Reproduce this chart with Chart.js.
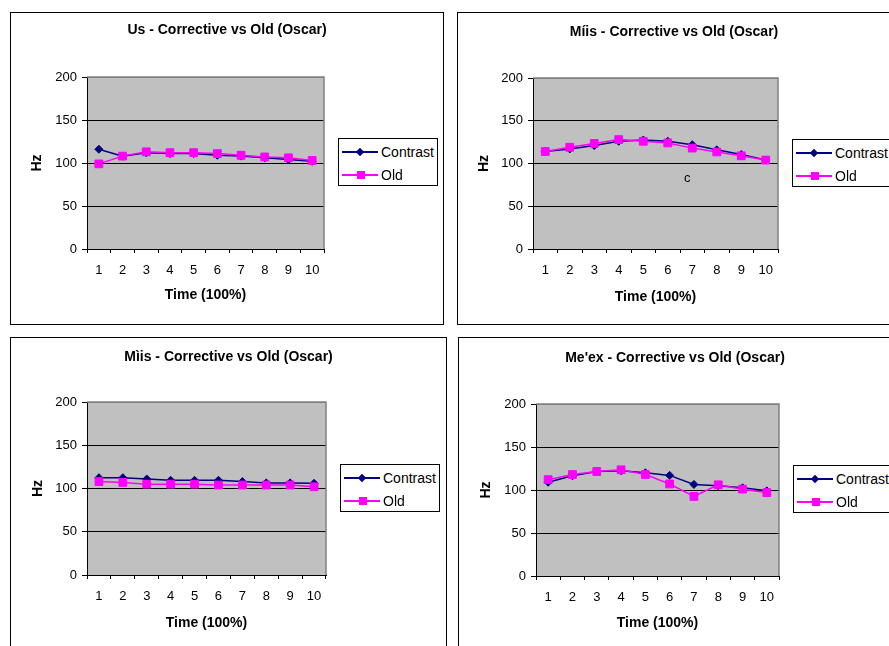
<!DOCTYPE html>
<html lang="en">
<head>
<meta charset="UTF-8">
<title>Corrective vs Old (Oscar)</title>
<script src="https://cdn.jsdelivr.net/npm/chart.js@4.4.1/dist/chart.umd.min.js"></script>
<style>
body { margin: 0; background: #fff; width: 889px; height: 646px; overflow: hidden; position: relative; }
.panel { position: absolute; border: 1px solid #000; background: #fff; }
.panel canvas { position: absolute; left: 0; top: 0; }
.legend { position: absolute; width: 100px; height: 48px; border: 1px solid #000; background: #fff; box-sizing: border-box;
  font: 14px "Liberation Sans", Arial, sans-serif; color: #000; }
.legend .row { position: absolute; left: 3px; height: 24px; line-height: 24px; white-space: nowrap; }
.legend .key { display: inline-block; position: relative; width: 36px; height: 24px; vertical-align: top; margin-right: 3px; }
.legend .key::before { content: ""; position: absolute; left: 0; right: 0; top: 11px; height: 1.5px; }
.legend .key i { position: absolute; left: 15px; top: 8px; width: 7px; height: 7px; }
.legend .navy::before, .legend .navy i { background: #000080; }
.legend .navy i { transform: rotate(45deg); width: 6px; height: 6px; top: 9px; }
.legend .pink::before, .legend .pink i { background: #ff00ff; }
.legend .pink i { width: 8px; height: 8px; top: 8px; }
</style>
</head>
<body>

<div class="panel" style="left:10px; top:12px; width:432px; height:311px;">
  <canvas id="c1" width="432" height="311"></canvas>
  <div class="legend" style="left:327px; top:125px;">
    <div class="row" style="top:1px"><span class="key navy"><i></i></span>Contrast</div>
    <div class="row" style="top:24px"><span class="key pink"><i></i></span>Old</div>
  </div>
</div>
<div class="panel" style="left:457px; top:12px; width:432px; height:311px;">
  <canvas id="c2" width="432" height="311"></canvas>
  <div class="legend" style="left:334px; top:126px;">
    <div class="row" style="top:1px"><span class="key navy"><i></i></span>Contrast</div>
    <div class="row" style="top:24px"><span class="key pink"><i></i></span>Old</div>
  </div>
</div>
<div class="panel" style="left:10px; top:337px; width:435px; height:320px;">
  <canvas id="c3" width="435" height="311"></canvas>
  <div class="legend" style="left:329px; top:126px;">
    <div class="row" style="top:1px"><span class="key navy"><i></i></span>Contrast</div>
    <div class="row" style="top:24px"><span class="key pink"><i></i></span>Old</div>
  </div>
</div>
<div class="panel" style="left:458px; top:337px; width:432px; height:320px;">
  <canvas id="c4" width="432" height="311"></canvas>
  <div class="legend" style="left:334px; top:127px;">
    <div class="row" style="top:1px"><span class="key navy"><i></i></span>Contrast</div>
    <div class="row" style="top:24px"><span class="key pink"><i></i></span>Old</div>
  </div>
</div>

<script>
// data
const timeLabels = ['1', '2', '3', '4', '5', '6', '7', '8', '9', '10']
const hzTicks = [0, 50, 100, 150, 200]

const usContrast = [116, 108, 112, 111, 111, 109, 108, 106, 104, 102]
const usOld = [99, 108, 113, 112, 112, 111, 109, 107, 106, 103]

const miisAcuteContrast = [114, 117, 121, 126, 127.5, 126, 122, 116, 110.5, 104]
const miisAcuteOld = [114, 119, 123.5, 128, 126, 124, 118, 113.5, 109, 104]

const miisGraveContrast = [112.5, 112.5, 111, 109.5, 109.5, 109.5, 108, 106.5, 106.5, 106]
const miisGraveOld = [108, 107, 105, 105, 105, 104, 104, 104, 104, 102]

const meexContrast = [109, 116.5, 121.5, 122.5, 120, 117, 106.5, 105, 102.5, 99]
const meexOld = [112, 118, 121.5, 123.5, 118, 107, 92.5, 106, 101, 97]

// stray "c" label sitting in the second chart
const acuteNote = 'c'
const acuteNoteTime = 5.8
const acuteNoteHz = 82

const FONT = '"Liberation Sans", Arial, sans-serif'

const plotFrame = {
  id: 'plotFrame',
  beforeDraw(chart) {
    const a = chart.chartArea, ctx = chart.ctx
    ctx.save()
    ctx.fillStyle = '#c0c0c0'
    ctx.fillRect(a.left, a.top, a.right - a.left, a.bottom - a.top)
    ctx.restore()
  },
  beforeDatasetsDraw(chart) {
    const a = chart.chartArea, ctx = chart.ctx
    ctx.save()
    ctx.strokeStyle = '#808080'
    ctx.lineWidth = 1.5
    ctx.beginPath()
    ctx.moveTo(a.left, a.top)
    ctx.lineTo(a.right, a.top)
    ctx.lineTo(a.right, a.bottom)
    ctx.stroke()
    ctx.restore()
  }
}

const noteText = {
  id: 'noteText',
  afterDatasetsDraw(chart, args, opts) {
    if (!opts.text) return
    const ctx = chart.ctx
    ctx.save()
    ctx.font = '13px ' + FONT
    ctx.fillStyle = '#000'
    ctx.textAlign = 'center'
    ctx.textBaseline = 'middle'
    ctx.fillText(opts.text, chart.scales.x.getPixelForValue(opts.x), chart.scales.y.getPixelForValue(opts.y))
    ctx.restore()
  }
}

// box = chart area inside the canvas, plus title / axis title positions
function makeChart(id, title, contrast, old, box, note) {
  const canvas = document.getElementById(id)
  const W = canvas.width, H = canvas.height
  return new Chart(canvas, {
    type: 'line',
    data: {
      labels: timeLabels,
      datasets: [
        {
          label: 'Contrast',
          data: contrast,
          borderColor: '#000080',
          backgroundColor: '#000080',
          borderWidth: 1.5,
          pointStyle: 'rectRot',
          pointRadius: 4,
          pointBorderWidth: 1,
          order: 1
        },
        {
          label: 'Old',
          data: old,
          borderColor: '#ff00ff',
          backgroundColor: '#ff00ff',
          borderWidth: 1.5,
          pointStyle: 'rect',
          pointRadius: 5.5,
          pointBorderWidth: 1,
          order: 0
        }
      ]
    },
    options: {
      responsive: false,
      animation: false,
      layout: { padding: 0 },
      plugins: {
        legend: { display: false },
        tooltip: { enabled: false },
        title: {
          display: true,
          text: title,
          color: '#000',
          font: { family: FONT, size: 14, weight: 'bold', lineHeight: 1.2 },
          padding: { top: box.titleY - 8.4, bottom: box.t - box.titleY - 8.4 }
        },
        noteText: note || {}
      },
      scales: {
        x: {
          type: 'category',
          offset: true,
          afterFit: s => { s.height = H - box.b },
          grid: { drawOnChartArea: false, offset: true, tickLength: 4, color: '#000', tickColor: '#000' },
          border: { color: '#000', width: 1 },
          ticks: { color: '#000', font: { family: FONT, size: 13 }, padding: 10, maxRotation: 0, autoSkip: false },
          title: {
            display: true,
            text: 'Time (100%)',
            color: '#000',
            font: { family: FONT, size: 14, weight: 'bold', lineHeight: 1.2 },
            padding: { top: 0, bottom: H - box.xTitleY - 8.4 }
          }
        },
        y: {
          min: 0,
          max: 200,
          afterFit: s => { s.width = box.l },
          afterBuildTicks: s => { s.ticks = hzTicks.map(v => ({ value: v })) },
          grid: {
            color: c => (c.tick && c.tick.value === 200 ? '#808080' : '#000'),
            tickColor: '#000',
            tickLength: 5,
            lineWidth: 1
          },
          border: { color: '#000', width: 1 },
          ticks: { color: '#000', font: { family: FONT, size: 13 }, padding: 5 },
          title: {
            display: true,
            text: 'Hz',
            color: '#000',
            font: { family: FONT, size: 14, weight: 'bold', lineHeight: 1.2 },
            padding: { top: box.yTitleX - 8.4, bottom: 0 }
          }
        },
        // empty right-hand axis that only reserves the room where the legend sits
        room: {
          type: 'linear',
          position: 'right',
          afterFit: s => { s.width = W - box.r },
          grid: { display: false },
          border: { display: false },
          ticks: { display: false }
        }
      }
    },
    plugins: [plotFrame, noteText]
  })
}

makeChart('c1', 'Us - Corrective vs Old (Oscar)', usContrast, usOld,
  { l: 76, r: 313, t: 64, b: 236, titleY: 17.5, xTitleY: 282, yTitleX: 26 })
makeChart('c2', 'Míis - Corrective vs Old (Oscar)', miisAcuteContrast, miisAcuteOld,
  { l: 75, r: 320, t: 65, b: 236, titleY: 19.5, xTitleY: 284, yTitleX: 26 },
  { text: acuteNote, x: acuteNoteTime, y: acuteNoteHz })
makeChart('c3', 'Mìis - Corrective vs Old (Oscar)', miisGraveContrast, miisGraveOld,
  { l: 76, r: 315, t: 64, b: 237, titleY: 19, xTitleY: 285, yTitleX: 27 })
makeChart('c4', "Me'ex - Corrective vs Old (Oscar)", meexContrast, meexOld,
  { l: 77, r: 320, t: 66, b: 238, titleY: 20.5, xTitleY: 285, yTitleX: 27 })
</script>
</body>
</html>
